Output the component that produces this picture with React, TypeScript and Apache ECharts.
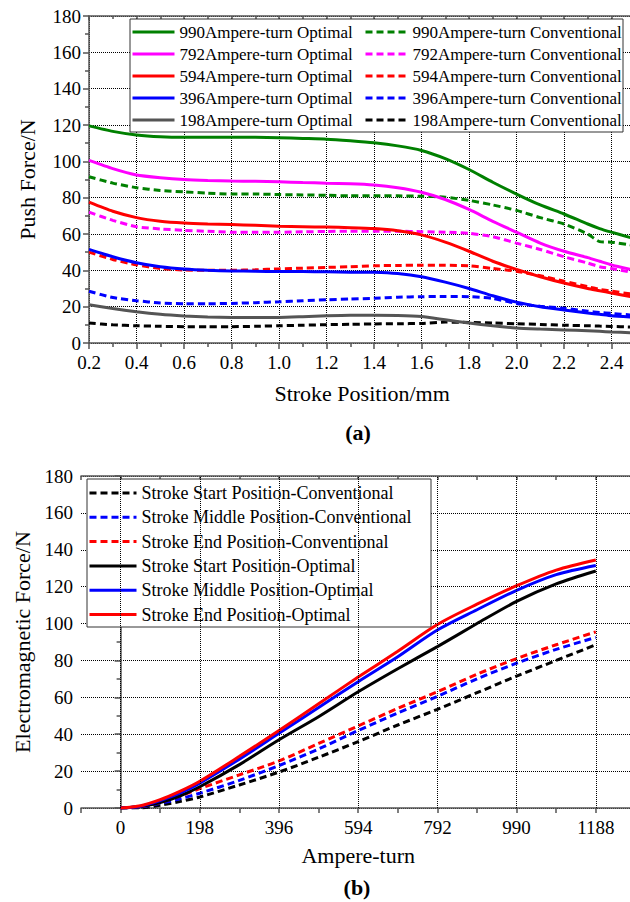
import React, { useEffect, useRef } from "react";
import * as echarts from "echarts";

// ---------- (a) push force versus stroke position ----------
const strokePos = [0.2, 0.3, 0.4, 0.5, 0.6, 0.7, 0.8, 0.9, 1.0, 1.1, 1.2, 1.3, 1.4, 1.5, 1.6, 1.7, 1.8, 1.9, 2.0, 2.1, 2.2, 2.3, 2.35, 2.4, 2.48];

const opt990 = [119.5, 116.5, 114.5, 113.5, 113.2, 113.2, 113.2, 113.2, 113, 112.6, 112.2, 111.3, 110.2, 108.5, 106, 101.5, 95.5, 88.5, 82, 76, 71, 65.5, 63, 61, 58];
const opt792 = [100.5, 96, 92.5, 91, 90, 89.5, 89.2, 89, 88.7, 88.3, 88, 87.7, 87, 85.5, 83, 79, 73.5, 67, 61, 55, 50.5, 47, 45, 43, 40.5];
const opt594 = [77.5, 72.5, 69, 67, 66, 65.5, 65.2, 64.8, 64.2, 64, 63.8, 63.5, 63, 61.8, 59.5, 55.5, 50.5, 45, 40.5, 36.5, 33, 30, 28.8, 27.5, 25.5];
const opt396 = [51.5, 47.5, 44.2, 42, 40.7, 40, 39.7, 39.5, 39.3, 39.3, 39.2, 39, 38.9, 38.2, 36.5, 33.5, 30, 26, 22.5, 20, 18.2, 16.5, 15.8, 15, 14.3];
const opt198 = [21, 19, 17.2, 15.8, 14.9, 14.3, 14.1, 14.1, 14.1, 14.5, 15, 15.3, 15.3, 15.2, 14.6, 12.8, 11, 9.5, 8.3, 7.7, 7.2, 6.7, 6.4, 6.1, 5.7];

const conv990 = [91.5, 88, 85.5, 84, 83.2, 82.5, 82, 82, 81.7, 81.5, 81.3, 81, 81, 81, 80.8, 80.3, 78.5, 76, 73, 69, 65.5, 60, 55.8, 55.5, 54];
const conv792 = [72, 67.5, 64, 62.8, 62, 61.5, 61, 61, 61, 61.2, 61.4, 61.5, 61.5, 61.5, 61.3, 61, 60.4, 58.5, 55, 51.5, 47.5, 44, 42, 41, 39];
const conv594 = [50, 46, 43, 41, 40.2, 40, 40, 40.3, 40.8, 41.2, 41.6, 42, 42.5, 42.7, 42.8, 42.8, 42.5, 41, 39.5, 37, 34, 31, 29.5, 28.5, 27];
const conv396 = [28.5, 25, 23.3, 22, 21.6, 21.6, 21.8, 22.2, 22.7, 23.3, 23.8, 24.2, 24.6, 25.2, 25.5, 25.6, 25.5, 24.5, 21.8, 20.2, 19.1, 17.5, 16.8, 16.3, 15.4];
const conv198 = [11, 10, 9.5, 9.2, 9, 9, 9, 9.2, 9.5, 9.8, 10.1, 10.3, 10.5, 10.6, 10.8, 11.5, 11.3, 11, 10.6, 10.2, 9.8, 9.5, 9.3, 9.1, 8.8];

const turnLevels = ["990", "792", "594", "396", "198"];
const levelColors = ["#008000", "#ff00ff", "#ff0000", "#0000ff", "#555555"];
const convColors = ["#008000", "#ff00ff", "#ff0000", "#0000ff", "#000000"];
const optSeries = [opt990, opt792, opt594, opt396, opt198];
const convSeries = [conv990, conv792, conv594, conv396, conv198];

// ---------- (b) electromagnetic force versus ampere-turn ----------
const ampereTurns = [0, 50, 99, 148, 198, 297, 396, 495, 594, 693, 792, 891, 990, 1089, 1188];
const startConv = [0, 0, 1.5, 3.5, 6, 12.5, 19.5, 27.5, 36, 45, 53.5, 62.5, 71.5, 80, 88.5];
const middleConv = [0, 0.5, 2.5, 5, 8, 15, 23, 32, 42, 51.5, 60.5, 70, 78.5, 86, 92.5];
const endConv = [0, 0.8, 3, 6.5, 10.5, 18, 25.5, 35, 44.5, 54, 63, 72.5, 81, 88.5, 95.5];
const startOpt = [0, 0.8, 3, 6.5, 11.5, 23.5, 37, 49.5, 63, 75.5, 87.5, 100, 112, 121.5, 128.5];
const middleOpt = [0, 1, 4, 8, 13.5, 26.5, 40.5, 54.5, 68.5, 82, 96.5, 107.5, 118, 126.5, 131.5];
const endOpt = [0, 1.2, 4.5, 9, 14.5, 28, 42, 56.5, 71, 85, 99.5, 110.5, 120.5, 129, 134.5];
const turnGridValues = [0, 198, 396, 594, 792, 990, 1188];

const positionNames = ["Start", "Middle", "End"];
const positionColors = ["#000000", "#0000ff", "#ff0000"];
const convPositionSeries = [startConv, middleConv, endConv];
const optPositionSeries = [startOpt, middleOpt, endOpt];

const FONT = "'Liberation Serif', 'Times New Roman', serif";
const AXIS_COLOR = "#555555";
const DASH = [7, 4];

const pair = (xs: number[], ys: number[]) => xs.map((x, i) => [x, ys[i]]);

function buildOption(): echarts.EChartsCoreOption {
  const labelStyle = { color: "#000", fontFamily: FONT, fontSize: 19 };
  const nameStyle = { color: "#000", fontFamily: FONT, fontSize: 22 };
  const axisLine = { show: true, lineStyle: { color: AXIS_COLOR, width: 1.5 } };
  const tickStyle = { color: AXIS_COLOR, width: 1.5 };
  const gridLine = { show: true, lineStyle: { color: "#000", type: "dotted", width: 1 } };

  const optNamesA = turnLevels.map((t) => `${t}Ampere-turn Optimal`);
  const convNamesA = turnLevels.map((t) => `${t}Ampere-turn Conventional`);
  const convNamesB = positionNames.map((p) => `Stroke ${p} Position-Conventional`);
  const optNamesB = positionNames.map((p) => `Stroke ${p} Position-Optimal`);

  const lineSeries = (
    name: string,
    xIdx: number,
    yIdx: number,
    data: number[][],
    color: string,
    dashed: boolean,
    smooth: number
  ) => ({
    type: "line",
    name,
    xAxisIndex: xIdx,
    yAxisIndex: yIdx,
    data,
    showSymbol: false,
    symbol: "none",
    smooth,
    lineStyle: dashed ? { color, width: 3, type: DASH } : { color, width: 3 },
    itemStyle: { color },
  });

  const series: any[] = [];
  turnLevels.forEach((_, i) => {
    series.push(lineSeries(convNamesA[i], 0, 0, pair(strokePos, convSeries[i]), convColors[i], true, 0.2));
  });
  turnLevels.forEach((_, i) => {
    series.push(lineSeries(optNamesA[i], 0, 0, pair(strokePos, optSeries[i]), levelColors[i], false, 0.2));
  });

  // vertical dotted grid lines of (b) at the labelled ampere-turn values
  series.push({
    type: "line",
    name: "turnGrid",
    xAxisIndex: 2,
    yAxisIndex: 1,
    z: 1,
    data: [[0, 0]],
    symbol: "none",
    lineStyle: { opacity: 0 },
    silent: true,
    markLine: {
      silent: true,
      symbol: ["none", "none"],
      label: { show: false },
      lineStyle: { color: "#000", type: "dotted", width: 1 },
      data: turnGridValues.map((v) => ({ xAxis: v })),
    },
  });

  positionNames.forEach((_, i) => {
    series.push(lineSeries(convNamesB[i], 2, 1, pair(ampereTurns, convPositionSeries[i]), positionColors[i], true, 0.3));
  });
  positionNames.forEach((_, i) => {
    series.push(lineSeries(optNamesB[i], 2, 1, pair(ampereTurns, optPositionSeries[i]), positionColors[i], false, 0.3));
  });

  const legendBase = (left: number, top: number, gap: number, width: number, size: number, lh: number, data: string[]) => ({
    orient: "vertical",
    left,
    top,
    padding: 0,
    itemGap: gap,
    itemWidth: width,
    itemHeight: 14,
    selectedMode: false,
    // line only, no marker in the key
    itemStyle: { color: "rgba(0,0,0,0)", borderColor: "rgba(0,0,0,0)", borderWidth: 0, opacity: 0 },
    lineStyle: { width: 3 },
    data,
    textStyle: { color: "#000", fontFamily: FONT, fontSize: size, lineHeight: lh },
  });

  return {
    animation: false,
    backgroundColor: "#fff",
    grid: [
      { left: 89, top: 16, width: 546.25, height: 327 },
      { left: 81, top: 476, width: 554.4, height: 332 },
    ],
    xAxis: [
      {
        type: "value",
        gridIndex: 0,
        min: 0.2,
        max: 2.5,
        interval: 0.2,
        name: "Stroke Position/mm",
        nameLocation: "middle",
        nameGap: 39,
        nameTextStyle: nameStyle,
        axisLine,
        axisTick: { show: true, inside: false, length: 6, lineStyle: tickStyle },
        minorTick: { show: true, splitNumber: 2, length: 4, lineStyle: tickStyle },
        axisLabel: { ...labelStyle, margin: 10, showMaxLabel: false, formatter: (v: number) => v.toFixed(1) },
        splitLine: gridLine,
      },
      {
        type: "value",
        gridIndex: 0,
        position: "top",
        min: 0.2,
        max: 2.5,
        interval: 0.2,
        axisLine,
        axisTick: { show: true, inside: true, length: 4, lineStyle: tickStyle },
        minorTick: { show: true, splitNumber: 2, length: 3, lineStyle: tickStyle },
        axisLabel: { show: false },
        splitLine: { show: false },
      },
      {
        type: "value",
        gridIndex: 1,
        min: -99,
        max: 1287,
        interval: 99,
        name: "Ampere-turn",
        nameLocation: "middle",
        nameGap: 36,
        nameTextStyle: nameStyle,
        axisLine,
        axisTick: { show: true, inside: false, length: 5, lineStyle: tickStyle },
        axisLabel: {
          ...labelStyle,
          margin: 10,
          formatter: (v: number) => (v >= 0 && v % 198 === 0 ? String(v) : ""),
        },
        splitLine: { show: false },
      },
      {
        type: "value",
        gridIndex: 1,
        position: "top",
        min: -99,
        max: 1287,
        interval: 99,
        axisLine,
        axisTick: { show: true, inside: true, length: 4, lineStyle: tickStyle },
        axisLabel: { show: false },
        splitLine: { show: false },
      },
    ],
    yAxis: [
      {
        type: "value",
        gridIndex: 0,
        min: 0,
        max: 180,
        interval: 20,
        name: "Push Force/N",
        nameLocation: "middle",
        nameGap: 51,
        nameTextStyle: nameStyle,
        axisLine,
        axisTick: { show: true, inside: false, length: 6, lineStyle: tickStyle },
        minorTick: { show: true, splitNumber: 2, length: 4, lineStyle: tickStyle },
        axisLabel: { ...labelStyle, margin: 8 },
        splitLine: gridLine,
      },
      {
        type: "value",
        gridIndex: 1,
        min: 0,
        max: 180,
        interval: 20,
        name: "Electromagnetic Force/N",
        nameLocation: "middle",
        nameGap: 46,
        nameTextStyle: nameStyle,
        axisLine,
        axisTick: { show: true, inside: false, length: 6, lineStyle: tickStyle },
        minorTick: { show: true, splitNumber: 2, length: 4, lineStyle: tickStyle },
        axisLabel: { ...labelStyle, margin: 8 },
        splitLine: gridLine,
      },
    ],
    legend: [
      legendBase(131, 23, 4, 42, 17, 18, optNamesA),
      legendBase(364, 23, 4, 42, 17, 18, convNamesA),
      legendBase(88, 483.5, 5.3, 47, 18, 19, [...convNamesB, ...optNamesB]),
    ],
    graphic: [
      {
        type: "rect",
        z: 3,
        shape: { x: 130, y: 19, width: 493, height: 113 },
        style: { fill: "#fff", stroke: "#333", lineWidth: 1 },
      },
      {
        type: "rect",
        z: 3,
        shape: { x: 87, y: 479, width: 344, height: 148 },
        style: { fill: "#fff", stroke: "#333", lineWidth: 1 },
      },
      {
        type: "text",
        x: 358,
        y: 432,
        style: {
          text: "(a)",
          fill: "#000",
          font: `bold 22px ${FONT}`,
          textAlign: "center",
          textVerticalAlign: "middle",
        },
      },
      {
        type: "text",
        x: 357,
        y: 887,
        style: {
          text: "(b)",
          fill: "#000",
          font: `bold 22px ${FONT}`,
          textAlign: "center",
          textVerticalAlign: "middle",
        },
      },
    ],
    series,
  };
}

export default function App() {
  const ref = useRef<HTMLDivElement>(null);

  useEffect(() => {
    if (!ref.current) return;
    const chart = echarts.init(ref.current, undefined, { renderer: "svg" });
    chart.setOption(buildOption());
    return () => chart.dispose();
  }, []);

  return (
    <div
      style={{
        position: "fixed",
        left: 0,
        top: 0,
        width: 630,
        height: 902,
        overflow: "hidden",
        background: "#fff",
      }}
    >
      <div ref={ref} style={{ width: 645, height: 902 }} />
    </div>
  );
}
